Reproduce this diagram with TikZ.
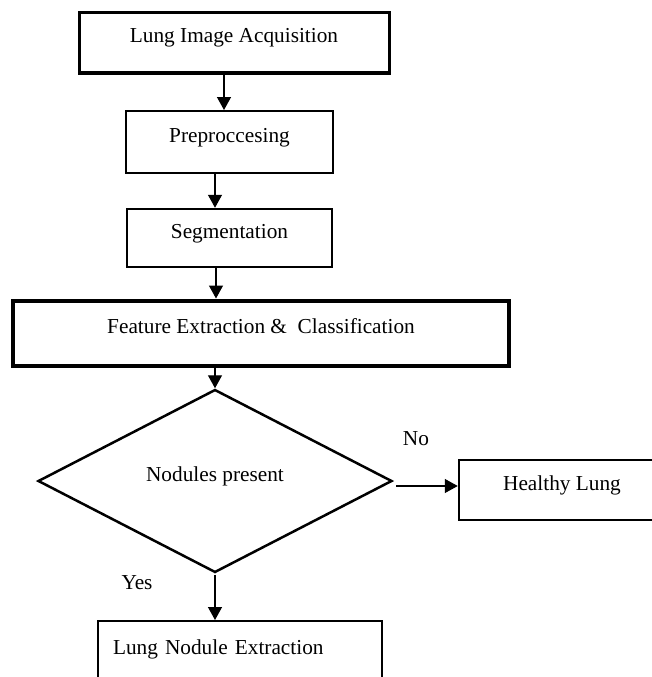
\documentclass[tikz,border=0pt]{standalone}
\usepackage{fontspec}
\setmainfont{Liberation Serif}
\usetikzlibrary{positioning}
\usetikzlibrary{arrows.meta}
\usetikzlibrary{shapes.geometric}

\tikzset{
    stage/.style={shape=rectangle, draw=black, inner sep=0pt, text height=6pt, text depth=6pt, font=\fontsize{21.3}{25}\selectfont},
    decision/.style={shape=diamond, draw=black, line width=2.5pt, inner sep=0pt, text height=6pt, text depth=6pt, font=\fontsize{21.3}{25}\selectfont},
    flow/.style={line width=1.3pt, -{Triangle[length=13pt, width=14pt]}},
    tag/.style={font=\fontsize{21.3}{25}\selectfont}
}

\begin{document}
\begin{tikzpicture}[x=1pt, y=-1pt]
    \clip (0,0) rectangle (652,677);

    \node[stage, line width=3pt, minimum width=310, minimum height=60] (acq) at (234,43) {Lung Image Acquisition};
    \node[stage, line width=2pt, minimum width=207, minimum height=62] (pre) at (229.5,142) {Preproccesing};
    \node[stage, line width=2.5pt, minimum width=205, minimum height=58] (seg) at (229.5,238) {Segmentation};
    \node[stage, line width=4pt, minimum width=496, minimum height=65] (feat) at (261,333) {Feature Extraction \&\ \ Classification};

    \node[decision, minimum width=354, minimum height=183] (dec) at (215,481) {Nodules present};

    \node[stage, line width=2.5pt, minimum width=206, minimum height=60] (healthy) at (562,490) {Healthy Lung};
    \node[stage, line width=2pt, minimum width=284, minimum height=66, text width=254pt, align=left, inner xsep=15pt] (nodule) at (240,654) {Lung Nodule Extraction};

    \draw[flow] ([xshift=-10pt]acq.south) -- ([xshift=-10pt]acq.south |- pre.north);
    \draw[flow] ([xshift=-14.5pt]pre.south) -- ([xshift=-14.5pt]pre.south |- seg.north);
    \draw[flow] ([xshift=-13.5pt]seg.south) -- ([xshift=-13.5pt]seg.south |- feat.north);
    \draw[flow] (feat.south -| dec.north) -- (dec.north);

    \draw[flow] ([xshift=3pt, yshift=-5pt]dec.east) -- ([yshift=-5pt]dec.east -| healthy.west);
    \draw[flow] ([yshift=-1pt]dec.south) -- (dec.south |- nodule.north);

    \node[tag] (no) at (416,439) {No};
    \node[tag] (yes) at (137,583) {Yes};
\end{tikzpicture}
\end{document}
